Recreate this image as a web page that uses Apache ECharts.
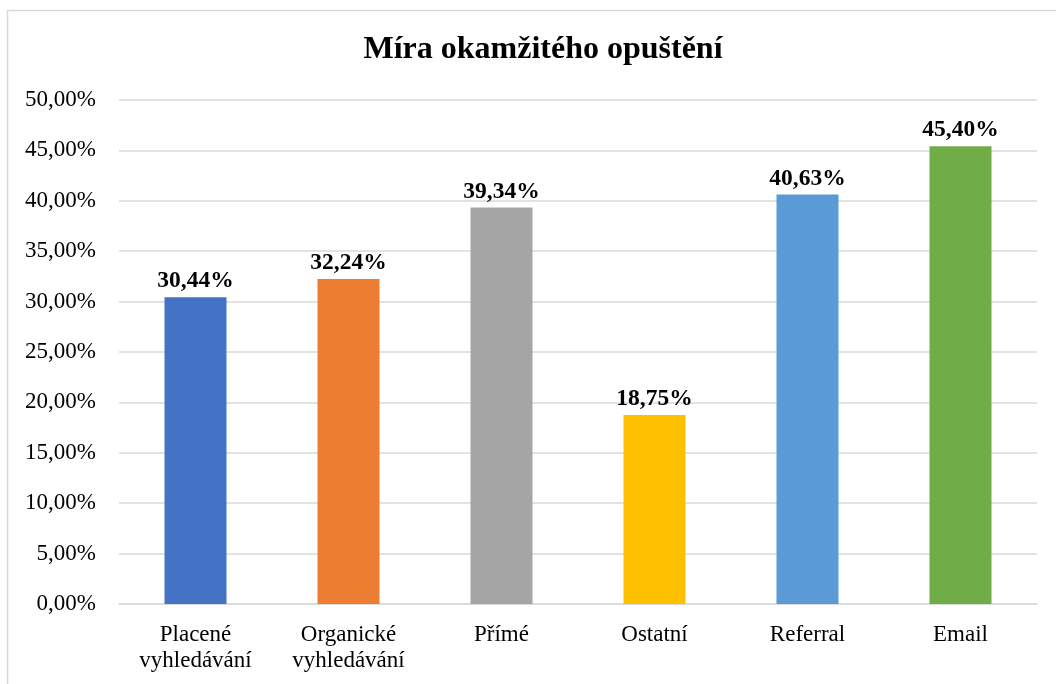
<!DOCTYPE html>
<html>
<head>
<meta charset="utf-8">
<script src="https://cdn.jsdelivr.net/npm/echarts@6/dist/echarts.min.js"></script>
<style>
  html, body { margin: 0; padding: 0; background: #fff; }
  #chart { width: 1056px; height: 684px; }
</style>
</head>
<body>
<div id="chart"></div>
<script>
// kategorie a hodnoty (v %)
var categories = ['Placené\nvyhledávání', 'Organické\nvyhledávání', 'Přímé', 'Ostatní', 'Referral', 'Email'];
var values = [30.44, 32.24, 39.34, 18.75, 40.63, 45.40];
var barColors = ['#4472C4', '#ED7D31', '#A5A5A5', '#FFC000', '#5B9BD5', '#70AD47'];

var font = '"Liberation Serif", "Times New Roman", serif';

function fmt(v) {
  return v.toFixed(2).replace('.', ',') + '%';
}

var chart = echarts.init(document.getElementById('chart'));

var option = {
  animation: false,
  title: {
    text: 'Míra okamžitého opuštění',
    left: 538,
    textAlign: 'center',
    top: 29,
    textStyle: { fontFamily: font, fontSize: 32, fontWeight: 'bold', color: '#000' }
  },
  // rámeček grafu
  graphic: [{
    type: 'rect',
    silent: true,
    shape: { x: 7.5, y: 10.5, width: 1100, height: 700 },
    style: { fill: 'none', stroke: '#d9d9d9', lineWidth: 1.5 }
  }],
  grid: { left: 119, right: 19, top: 100, bottom: 80, containLabel: false },
  xAxis: {
    type: 'category',
    data: categories,
    axisLine: { show: true, lineStyle: { color: '#d9d9d9', width: 1.5 } },
    axisTick: { show: false },
    axisLabel: {
      fontFamily: font, fontSize: 23, color: '#000', margin: 18, lineHeight: 26,
      interval: 0
    }
  },
  yAxis: {
    type: 'value',
    min: 0,
    max: 50,
    interval: 5,
    axisLine: { show: false },
    axisTick: { show: false },
    splitLine: { lineStyle: { color: '#d9d9d9', width: 1.5 } },
    axisLabel: {
      fontFamily: font, fontSize: 23, color: '#000', margin: 23,
      formatter: function (v) { return fmt(v); }
    }
  },
  series: [{
    type: 'bar',
    barWidth: 62,
    data: values.map(function (v, i) {
      return { value: v, itemStyle: { color: barColors[i] } };
    }),
    label: {
      show: true,
      position: 'top',
      distance: 4,
      fontFamily: font, fontSize: 23.5, fontWeight: 'bold', color: '#000',
      formatter: function (p) { return fmt(p.value); }
    }
  }]
};

chart.setOption(option);
</script>
</body>
</html>
